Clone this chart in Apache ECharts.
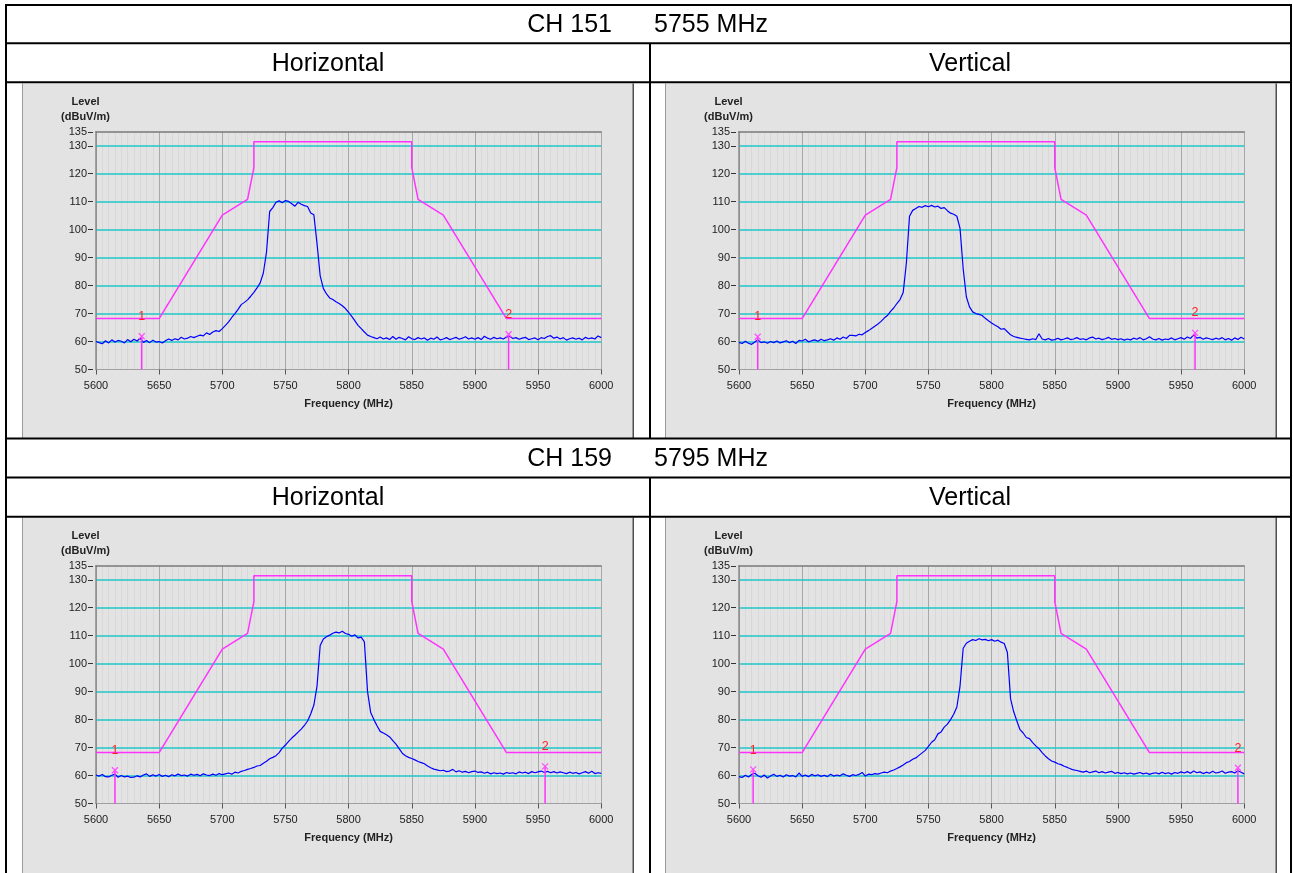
<!DOCTYPE html>
<html><head><meta charset="utf-8">
<script src="https://cdn.jsdelivr.net/npm/echarts@6/dist/echarts.min.js"></script>
<style>html,body{margin:0;padding:0;background:#fff;}#c{width:1293px;height:873px;}</style>
</head><body><div id="c"></div>
<script>
// ---------------- data ----------------
const freqStart = 5600, freqStep = 2.5;           // sweep grid of the trace (MHz)
const xMin = 5600, xMax = 6000, xInterval = 50;
const yMin = 50, yMax = 135, yInterval = 10;
const channelTitles = ['CH 151', 'CH 159'];
const channelFreqs = ['5755 MHz', '5795 MHz'];
const polarizations = ['Horizontal', 'Vertical'];
const xAxisName = 'Frequency (MHz)';
const yAxisName = 'Level\n(dBuV/m)';

const limitFreq  = [5600, 5650, 5700, 5720, 5725, 5725, 5850, 5850, 5855, 5875, 5925, 6000];
const limitLevel = [68.2, 68.2, 105.2, 110.8, 122.2, 131.4, 131.4, 122.2, 110.8, 105.2, 68.2, 68.2];

const traceH151 = [
60.0,59.6,59.2,60.3,59.5,60.6,59.8,60.4,60.1,59.5,
60.7,59.9,60.8,60.2,61.2,59.7,60.4,59.6,60.5,59.8,
60.0,59.5,60.3,60.9,60.4,61.0,60.6,61.5,60.9,61.2,
61.8,61.4,61.9,62.3,62.0,63.1,62.5,63.4,63.9,63.6,
64.6,65.8,67.0,68.6,70.0,71.5,73.2,74.0,74.9,76.2,
77.6,79.2,81.0,84.5,92.0,106.5,107.9,109.8,110.3,109.6,
110.4,110.1,109.3,108.4,109.8,109.1,108.6,108.3,106.0,105.3,
95.0,83.5,79.0,77.0,75.6,75.0,74.2,73.6,72.8,71.8,
70.4,69.0,67.4,65.8,64.6,63.4,62.3,61.8,61.4,61.0,
61.6,60.9,61.3,60.7,61.8,60.8,61.5,61.1,60.6,61.7,
61.0,60.7,61.4,60.9,61.3,60.5,61.2,60.8,61.6,60.6,
60.9,61.4,60.7,61.1,61.5,60.8,61.2,61.7,60.9,61.3,
60.8,61.4,60.7,61.9,61.2,60.8,61.5,61.0,61.3,60.9,
61.6,61.9,61.1,61.4,60.8,61.2,61.5,60.7,61.0,61.3,
60.6,61.4,61.1,61.8,62.1,61.2,61.6,60.9,61.4,60.5,
61.0,61.3,60.8,61.2,60.6,61.5,61.0,61.3,60.9,62.0,
61.4];
const traceV151 = [
59.7,59.3,60.1,59.4,59.0,59.8,60.6,59.6,59.9,59.4,
60.0,59.6,60.2,59.5,59.9,60.3,59.6,60.1,59.3,60.4,
60.2,60.8,59.9,60.3,60.6,60.1,60.8,60.3,60.6,61.0,
60.5,61.3,60.8,61.6,61.1,62.2,62.2,62.0,62.6,62.4,
63.2,63.9,64.7,65.5,66.3,67.2,68.4,69.3,70.8,72.0,
73.6,75.0,77.5,88.0,104.8,106.9,107.6,108.3,108.0,108.6,
108.2,108.7,108.1,108.4,107.6,107.9,106.8,105.9,105.5,104.8,
100.5,86.0,76.0,72.4,70.6,70.0,69.7,69.3,68.3,67.4,
66.6,65.9,65.3,64.4,64.6,63.5,62.4,61.8,61.5,61.2,
61.0,60.8,60.6,61.0,60.7,62.8,60.9,60.6,61.1,60.5,
60.7,61.2,60.6,60.9,61.3,60.7,60.9,61.4,60.8,61.0,
60.6,61.3,61.6,60.9,61.2,60.7,61.0,61.5,60.8,61.1,
60.7,61.0,60.5,60.9,60.6,61.2,60.8,61.4,60.6,61.0,
61.7,60.9,60.6,61.1,60.5,60.9,60.7,61.3,60.6,61.0,
61.4,60.8,61.6,61.1,62.4,61.2,61.5,60.8,61.3,61.0,
60.7,61.2,60.8,61.4,60.6,61.1,60.5,61.3,60.7,61.5,
60.9];
const traceH159 = [
60.2,59.8,60.4,59.6,59.5,60.1,60.5,59.4,60.0,59.5,
59.8,59.3,59.4,59.9,59.5,60.2,60.6,59.7,60.3,59.8,
60.4,59.7,60.1,59.6,60.3,59.9,60.5,60.0,60.2,59.8,
60.5,60.1,60.4,59.9,60.6,60.2,60.0,60.5,60.1,60.7,
60.3,60.6,60.9,60.5,61.2,60.9,61.5,61.8,62.2,62.5,
62.9,63.4,63.6,64.4,65.1,66.0,66.5,67.1,68.2,69.8,
70.9,72.2,73.4,74.4,75.5,76.6,77.9,79.5,82.0,85.2,
92.0,106.5,108.8,109.6,110.2,110.9,111.3,111.0,111.6,110.8,
110.5,109.8,110.3,109.2,109.5,107.8,90.0,82.5,80.0,77.8,
75.8,75.2,74.6,73.8,72.5,71.2,69.6,68.0,67.1,66.5,
66.1,65.6,65.0,64.6,64.2,63.4,62.8,62.3,62.0,61.7,
61.9,61.4,61.6,62.2,61.3,61.7,61.2,61.5,61.0,61.4,
61.6,61.1,61.3,60.8,61.2,60.6,61.0,60.7,60.9,60.5,
61.1,60.8,61.0,60.6,61.3,60.9,61.2,60.7,61.4,61.0,
61.3,61.6,61.1,61.5,61.0,61.4,60.9,61.3,61.0,60.7,
61.2,60.8,61.1,60.6,61.0,61.4,60.8,61.5,60.7,61.0,
60.8];
const traceV159 = [
59.6,59.3,60.1,59.5,60.4,60.8,59.9,59.4,60.2,59.1,
59.8,60.5,59.7,60.1,59.5,60.3,59.8,60.0,59.5,60.9,
59.7,60.2,59.6,60.4,59.9,60.3,59.7,60.1,59.6,60.5,
59.8,60.2,59.9,60.6,60.1,59.7,60.3,60.0,60.4,61.1,
59.8,60.5,60.3,60.7,60.5,60.9,61.2,61.0,61.6,62.0,
62.5,63.1,63.8,64.6,65.0,65.8,66.3,67.2,68.1,69.0,
70.4,71.9,72.8,74.9,75.6,77.3,78.4,80.0,81.9,84.5,
92.0,105.5,107.3,108.0,108.6,108.3,108.9,108.5,108.7,108.2,
108.6,108.0,108.4,107.7,107.2,104.0,87.5,82.8,79.5,76.4,
75.2,73.6,73.2,71.8,70.6,69.6,68.2,67.0,66.0,65.2,
64.8,64.2,63.9,63.3,62.9,62.4,62.0,61.8,61.5,61.2,
61.6,61.0,61.3,61.6,61.0,61.4,60.9,61.2,61.5,60.8,
61.1,60.7,61.0,60.6,60.9,60.5,60.8,61.1,60.6,60.9,
60.4,60.8,61.0,60.6,61.2,60.7,61.0,60.5,61.1,60.8,
61.3,60.9,61.4,60.8,61.6,61.0,61.3,60.7,61.2,60.8,
61.5,60.9,61.1,61.6,60.8,61.2,61.4,60.9,61.7,61.2,
60.6];

const markerNames = ['1', '2'];
const markerFreq  = [[5636.2, 5926.7], [5614.8, 5961.1], [5615.0, 5955.6], [5611.2, 5995.0]];
const markerTop   = [[61.9, 62.6], [61.7, 63.1], [61.9, 63.3], [62.2, 62.8]];
const markerLabelLevel = [[69.0, 69.8], [68.8, 70.2], [68.8, 70.4], [69.0, 69.6]];

// ---------------- layout / style ----------------
const FONT = "'Liberation Sans', Arial, sans-serif";
const traces = [traceH151, traceV151, traceH159, traceV159];
const panels = [[22, 83.5], [665, 83.5], [22, 517.5], [665, 517.5]];
const PW = 612, PH = 355.5;

const chart = echarts.init(document.getElementById('c'), null, {renderer: 'canvas'});
const grids = [], xAxes = [], yAxes = [], series = [], graphic = [];

// panels (grey chart images)
panels.forEach(([px, py]) => {
  graphic.push({type: 'rect', shape: {x: px, y: py, width: PW, height: PH}, style: {fill: '#e3e3e3'}, z: 0, silent: true});
  graphic.push({type: 'rect', shape: {x: px, y: py, width: 1, height: PH}, style: {fill: '#9a9a9a'}, z: 1, silent: true});
  graphic.push({type: 'rect', shape: {x: px + PW - 1.5, y: py, width: 1.5, height: PH}, style: {fill: '#505050'}, z: 1, silent: true});
});

// table lines
const hLines = [5, 43.3, 82.3, 438.6, 477.6, 516.7];
hLines.forEach(y => graphic.push({type: 'rect', shape: {x: 5, y: y - 1, width: 1287, height: 2}, style: {fill: '#000'}, z: 10, silent: true}));
[[5, 4, 873], [1290, 4, 873], [649, 43.3, 438.6], [649, 477.6, 873]].forEach(([x, y0, y1]) =>
  graphic.push({type: 'rect', shape: {x: x, y: y0, width: 2, height: y1 - y0}, style: {fill: '#000'}, z: 10, silent: true}));

// table texts
const hdr = {fontSize: 25, fontFamily: FONT, fill: '#000', verticalAlign: 'middle'};
[[25, 0], [459, 1]].forEach(([y, k]) => {
  graphic.push({type: 'text', x: 612, y: y, style: Object.assign({text: channelTitles[k], align: 'right'}, hdr), z: 11});
  graphic.push({type: 'text', x: 654, y: y, style: Object.assign({text: channelFreqs[k], align: 'left'}, hdr), z: 11});
});
[[64], [498]].forEach(([y]) => {
  graphic.push({type: 'text', x: 328, y: y, style: Object.assign({text: polarizations[0], align: 'center'}, hdr), z: 11});
  graphic.push({type: 'text', x: 970, y: y, style: Object.assign({text: polarizations[1], align: 'center'}, hdr), z: 11});
});

panels.forEach(([px, py], i) => {
  grids.push({left: px + 74, top: py + 48.3, width: 505.2, height: 237.7, show: true, backgroundColor: '#ffffff', borderWidth: 0, containLabel: false});
  xAxes.push({
    type: 'value', gridIndex: i, min: xMin, max: xMax, interval: xInterval, position: 'bottom', z: 0,
    axisLine: {show: true, onZero: false, lineStyle: {color: '#a0a0a0', width: 1}},
    axisTick: {show: true, length: 5, lineStyle: {color: '#555', width: 1}},
    axisLabel: {color: '#222', fontSize: 11, fontFamily: FONT, margin: 11, formatter: v => String(v)},
    splitLine: {show: true, lineStyle: {color: '#a8a8a8', width: 1, type: 'solid'}},
    minorTick: {show: false, splitNumber: 10},
    minorSplitLine: {show: true, lineStyle: {color: '#d8d8d8', width: 1, type: 'solid'}},
    name: xAxisName, nameLocation: 'middle', nameGap: 29,
    nameTextStyle: {color: '#222', fontSize: 11, fontWeight: 'bold', fontFamily: FONT}
  });
  xAxes.push({
    type: 'value', gridIndex: i, min: xMin, max: xMax, position: 'top', z: 1,
    axisLine: {show: true, onZero: false, lineStyle: {color: '#7a7a7a', width: 1.5}},
    axisTick: {show: false}, axisLabel: {show: false}, splitLine: {show: false}
  });
  yAxes.push({
    type: 'value', gridIndex: i, min: yMin, max: yMax, interval: yInterval, z: 1,
    axisLine: {show: true, onZero: false, lineStyle: {color: '#8a8a8a', width: 1.5}},
    axisTick: {show: true, length: 8, lineStyle: {color: '#333', width: 1, type: [0, 3, 5, 0]}},
    axisLabel: {color: '#222', fontSize: 11, fontFamily: FONT, margin: 9, formatter: v => String(v)},
    splitLine: {show: true, showMinLine: false, showMaxLine: false, lineStyle: {color: '#1fc6c9', width: 1.5, type: 'solid'}},
    name: yAxisName, nameLocation: 'end', nameGap: 7,
    nameTextStyle: {color: '#222', fontSize: 11, fontWeight: 'bold', fontFamily: FONT, lineHeight: 15, align: 'center', padding: [0, 21, 0, 0]}
  });

  const xi = 2 * i;
  series.push({
    type: 'line', xAxisIndex: xi, yAxisIndex: i, symbol: 'none', z: 3, silent: true,
    data: traces[i].map((v, k) => [freqStart + k * freqStep, v]),
    lineStyle: {color: '#0000ff', width: 1.2}
  });
  series.push({
    type: 'line', xAxisIndex: xi, yAxisIndex: i, symbol: 'none', z: 2, silent: true,
    data: limitFreq.map((f, k) => [f, limitLevel[k]]),
    lineStyle: {color: '#ff33ff', width: 1.5}
  });
  markerFreq[i].forEach((f, m) => {
    series.push({
      type: 'line', xAxisIndex: xi, yAxisIndex: i, symbol: 'none', z: 4, silent: true,
      data: [[f, yMin], [f, markerTop[i][m]]],
      lineStyle: {color: '#ff33ff', width: 1.5}
    });
  });
  series.push({
    type: 'scatter', xAxisIndex: xi, yAxisIndex: i, z: 5, silent: true,
    symbol: 'path://M0 0L10 10M10 0L0 10', symbolSize: 6,
    itemStyle: {color: 'rgba(0,0,0,0)', borderColor: '#ff4dff', borderWidth: 1.2, opacity: 1},
    data: markerFreq[i].map((f, m) => [f, markerTop[i][m]])
  });
  series.push({
    type: 'scatter', xAxisIndex: xi, yAxisIndex: i, z: 6, silent: true,
    symbol: 'circle', symbolSize: 1, itemStyle: {color: 'rgba(0,0,0,0)', opacity: 1},
    label: {show: true, position: 'inside', formatter: '{b}', color: '#ff2020', fontSize: 12.5, fontFamily: FONT, opacity: 1,
            textBorderWidth: 0, textBorderColor: 'transparent', textShadowBlur: 0},
    data: markerFreq[i].map((f, m) => ({name: markerNames[m], value: [f, markerLabelLevel[i][m]]}))
  });
});

chart.setOption({
  animation: false,
  backgroundColor: '#ffffff',
  grid: grids, xAxis: xAxes, yAxis: yAxes, series: series, graphic: graphic
});
</script>
</body></html>
